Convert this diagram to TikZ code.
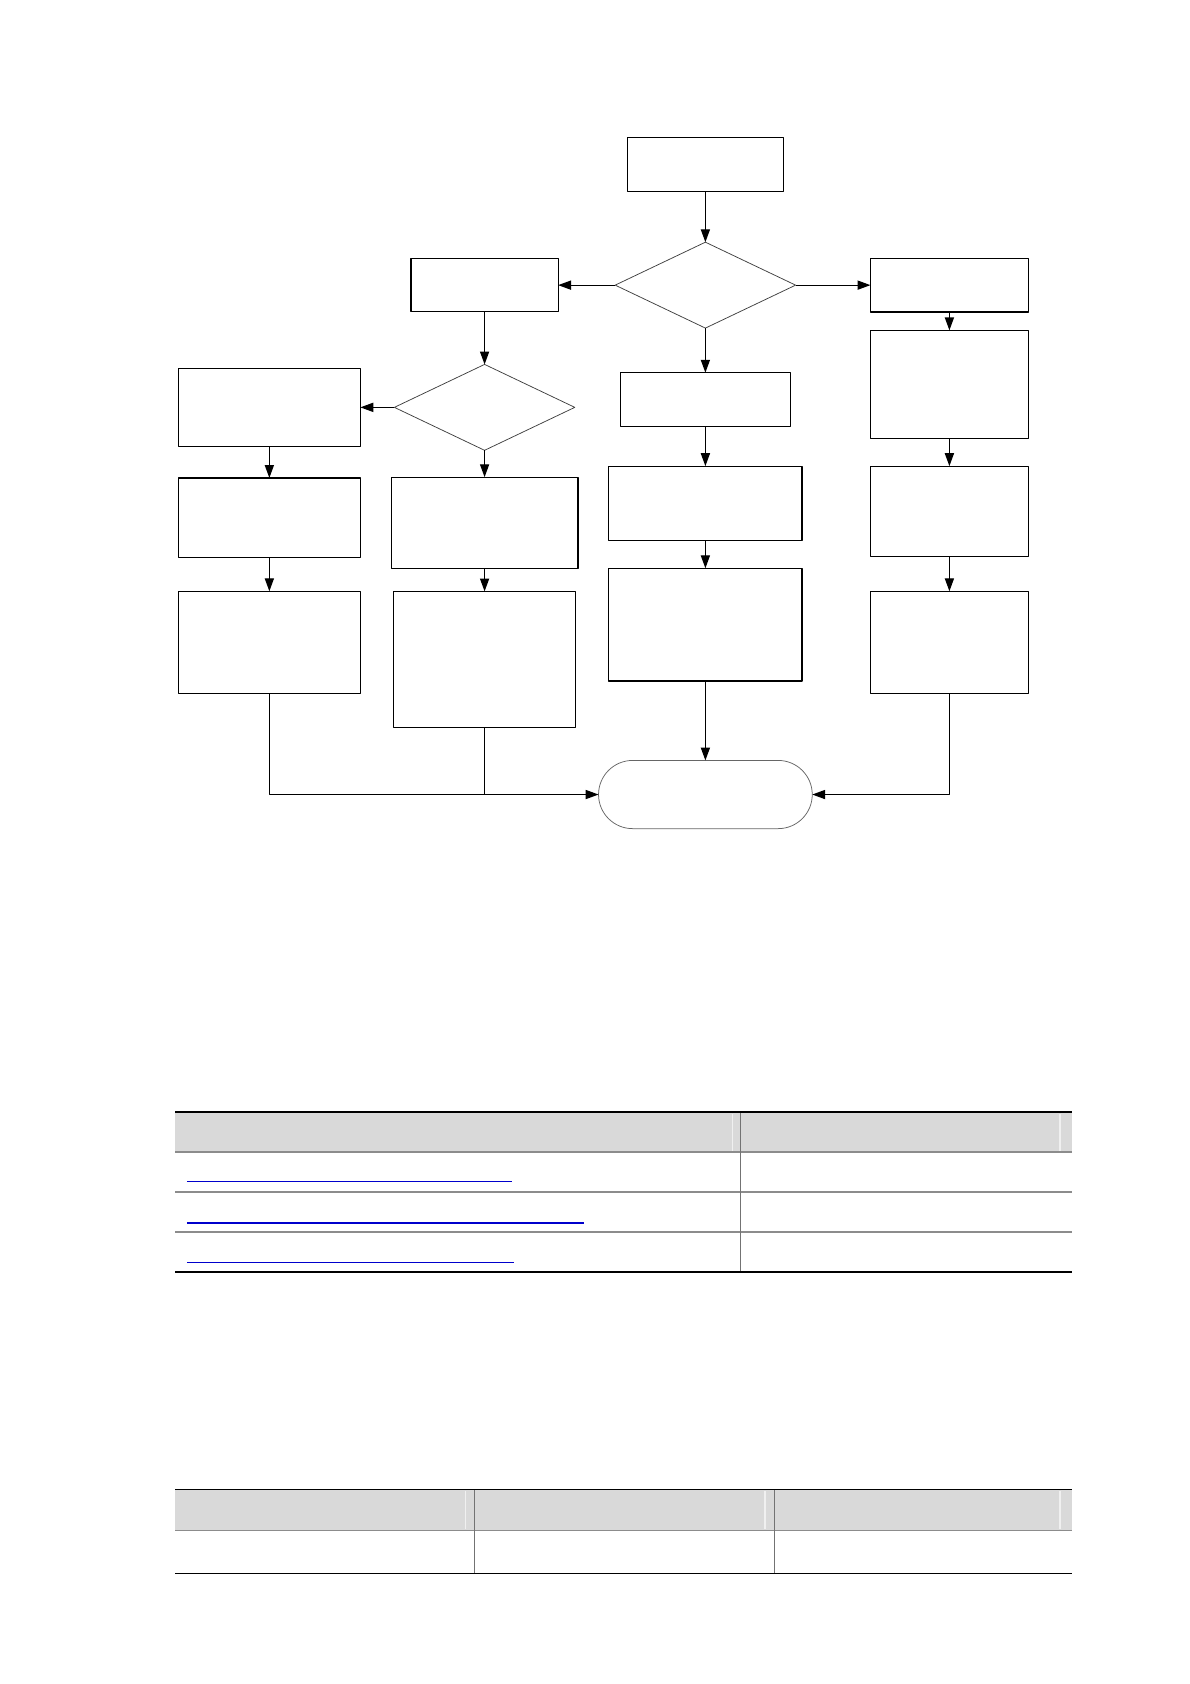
\documentclass[tikz,border=0pt]{standalone}
\usetikzlibrary{arrows.meta,shapes.geometric,shapes.misc}
\definecolor{linkblue}{RGB}{0,0,204}
\begin{document}
\begin{tikzpicture}[x=1pt,y=-1pt,line join=round]
\tikzset{box/.style 2 args={draw,line width=1.1pt,inner sep=0pt,outer sep=0pt,minimum width=#1pt,minimum height=#2pt},
  ask/.style 2 args={diamond,draw=black!75,line width=0.7pt,inner sep=0pt,outer sep=0pt,minimum width=#1pt,minimum height=#2pt},
  flow/.style={-{Triangle[length=12pt,width=8.5pt]},line width=1.1pt},
  rule/.style={line width=1.4pt},
  thin rule/.style={black!45,line width=1.2pt}}
\useasboundingbox (0,0) rectangle (1108,1568);
\def\mx{656.8}\def\lx{451.2}\def\ex{884}\def\wx{250.8}
\node[box={145}{50}] (start) at (\mx,153) {};
\node[ask={168}{80}] (qa) at (\mx,265.5) {};
\node[box={137}{49}] (west) at (\lx,265.5) {};
\node[box={147}{50}] (east) at (\ex,265.5) {};
\node[box={158}{50}] (mid) at (\mx,372) {};
\node[box={180}{69}] (midb) at (\mx,468.5) {};
\node[box={180}{105}] (midc) at (\mx,581.6) {};
\node[rounded rectangle,draw=black!60,line width=0.7pt,inner sep=0pt,outer sep=0pt,minimum width=199pt,minimum height=63.5pt] (stop) at (\mx,739.8) {};
\node[box={147}{100.5}] (eastb) at (\ex,357.8) {};
\node[box={147}{84}] (eastc) at (\ex,476) {};
\node[box={147}{95}] (eastd) at (\ex,598) {};
\node[ask={168}{80}] (qb) at (\lx,379.3) {};
\node[box={169.5}{72.5}] (lefta) at (\wx,379.3) {};
\node[box={169.5}{74}] (leftb) at (\wx,482) {};
\node[box={169.5}{95}] (leftc) at (\wx,598) {};
\node[box={174}{85}] (subb) at (\lx,486.8) {};
\node[box={169.5}{126.5}] (subc) at (\lx,613.9) {};
\foreach \a/\b in {start/qa,qa/west,qa/east,qa/mid,west/qb,qb/lefta,qb/subb,lefta/leftb,leftb/leftc,subb/subc,mid/midb,midb/midc,midc/stop,east/eastb,eastb/eastc,eastc/eastd}
  \draw[flow] (\a) -- (\b);
\draw[flow] (leftc.south) |- (stop.west);
\draw[line width=1.1pt] (subc.south) -- (subc.south |- stop.west);
\draw[flow] (eastd.south) |- (stop.east);
\fill[black!15] (163,1036.5) rectangle (998,1072.5);
\foreach \x in {682,987} \draw[black!6,line width=1.5pt] (\x,1037) -- (\x,1072);
\draw[rule] (163,1035.6) -- (998,1035.6);
\foreach \y in {1072.6,1110,1147} \draw[thin rule] (163,\y) -- (998,\y);
\draw[black!55,line width=0.8pt] (689,1036.5) -- (689,1184);
\draw[rule] (163,1184.5) -- (998,1184.5);
\draw[linkblue,line width=1.2pt] (174,1100) -- (476.5,1100);
\draw[linkblue,line width=2pt] (174,1138.4) -- (544,1138.4);
\draw[linkblue,line width=1.2pt] (174,1175.3) -- (479,1175.3);
\fill[black!15] (163,1387.5) rectangle (998,1424.5);
\foreach \x in {433.5,712.3,987} \draw[black!6,line width=1.5pt] (\x,1388) -- (\x,1424);
\draw[rule] (163,1386.7) -- (998,1386.7);
\draw[thin rule] (163,1424.9) -- (998,1424.9);
\foreach \x in {441.8,721} \draw[black!55,line width=0.8pt] (\x,1387.5) -- (\x,1465);
\draw[rule] (163,1465.3) -- (998,1465.3);
\end{tikzpicture}
\end{document}
